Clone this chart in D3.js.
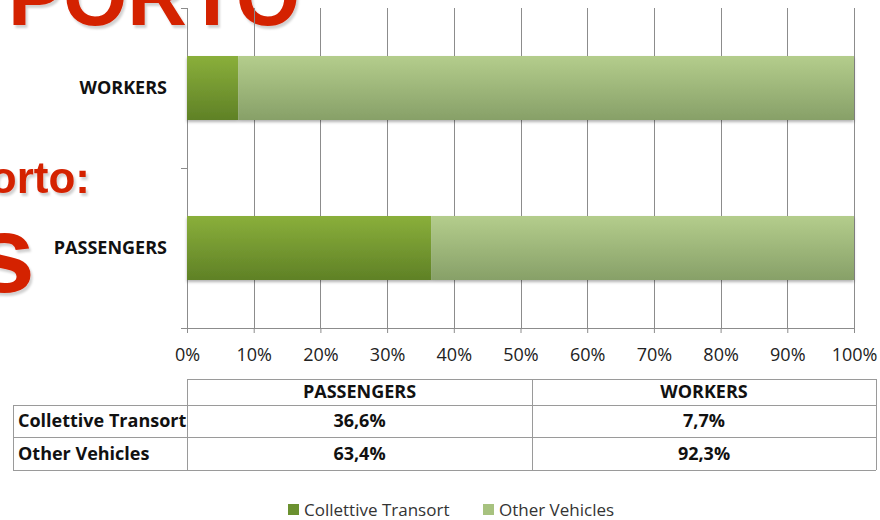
<!DOCTYPE html>
<html>
<head>
<meta charset="utf-8">
<script src="https://cdn.jsdelivr.net/npm/d3@7"></script>
<style>
	body { margin: 0; background: #fff; }
	svg { display: block; font-family: 'Open Sans', sans-serif; }
</style>
</head>
<body>
<svg width="880" height="520"></svg>
<script>
// Chart data
const categories = ['WORKERS', 'PASSENGERS']; // top to bottom
const seriesNames = ['Collettive Transort', 'Other Vehicles'];
const collective = [7.7, 36.6]; // % per category (same order)
const other = [92.3, 63.4];
const tickValues = [0, 10, 20, 30, 40, 50, 60, 70, 80, 90, 100];
const tableCols = ['PASSENGERS', 'WORKERS'];
const tableRows = [
	['36,6%', '7,7%'],
	['63,4%', '92,3%'],
];

const svg = d3.select('svg');
const margin = { left: 187, right: 26, top: 8, bottom: 192 };
const width = 880;
const height = 520;

const defs = svg.append('defs');
// soft grey shadow for the slide text
const textShadow = defs.append('filter').attr('id', 'textShadow').attr('x', '-10%').attr('y', '-10%').attr('width', '130%').attr('height', '130%');
textShadow.append('feDropShadow').attr('dx', 2).attr('dy', 3).attr('stdDeviation', 0.8)
	.attr('flood-color', '#000').attr('flood-opacity', 0.18);

// Background slide text (red, partly behind the chart)
const bg = svg.append('g').attr('font-family', "'Liberation Sans', Arial, sans-serif").attr('font-weight', 'bold')
	.attr('fill', '#d42100').attr('filter', 'url(#textShadow)');
bg.append('text').attr('x', 8).attr('y', 25).attr('font-size', 84)
	.attr('textLength', 292).attr('lengthAdjust', 'spacingAndGlyphs').text('PORTO');
bg.append('text').attr('x', 90).attr('y', 193).attr('text-anchor', 'end').attr('font-size', 44).text('Porto:');
bg.append('text').attr('x', 35).attr('y', 292).attr('text-anchor', 'end').attr('font-size', 110).text('s');

// gradients for bars
function grad(id, top, bottom) {
	const g = defs.append('linearGradient').attr('id', id).attr('x1', 0).attr('y1', 0).attr('x2', 0).attr('y2', 1);
	g.append('stop').attr('offset', '0%').attr('stop-color', top);
	g.append('stop').attr('offset', '100%').attr('stop-color', bottom);
}
grad('gDark', '#8aaf3b', '#5f8126');
grad('gLight', '#b4cd8c', '#87a068');
const shadow = defs.append('filter').attr('id', 'shadow').attr('x', '-5%').attr('y', '-20%').attr('width', '110%').attr('height', '150%');
shadow.append('feDropShadow').attr('dx', 0).attr('dy', 2).attr('stdDeviation', 1.5).attr('flood-opacity', 0.3);

const x = d3.scaleLinear().domain([0, 100]).range([margin.left, width - margin.right]);
const y = d3.scaleBand().domain(categories).range([margin.top, height - margin.bottom])
	.paddingInner(0.6).paddingOuter(0.3);

const chart = svg.append('g');

// gridlines
chart.append('g').selectAll('line').data(tickValues).join('line')
	.attr('x1', (d) => x(d) + 0.5).attr('x2', (d) => x(d) + 0.5)
	.attr('y1', y.range()[0]).attr('y2', y.range()[1])
	.attr('stroke', '#8c8c8c').attr('stroke-width', 1).attr('shape-rendering', 'crispEdges');

// x axis
const xAxis = chart.append('g').attr('transform', `translate(0,${y.range()[1]})`)
	.call(d3.axisBottom(x).tickValues(tickValues).tickSize(5).tickFormat((d) => d + '%'));
xAxis.select('.domain').attr('d', `M${x(0) - 6},0.5H${x(100)}`).attr('stroke', '#8c8c8c');
xAxis.selectAll('.tick line').attr('stroke', '#8c8c8c');
xAxis.selectAll('.tick text').attr('font-size', 18).attr('fill', '#222').attr('y', 20).attr('dy', '0.71em')
	.attr('font-family', "'Open Sans', sans-serif");

// y axis ticks at band boundaries
const boundaries = [y.range()[0], (y(categories[0]) + y.bandwidth() + y(categories[1])) / 2, y.range()[1]];
chart.append('g').selectAll('line').data(boundaries).join('line')
	.attr('x1', x(0) - 6).attr('x2', x(0)).attr('y1', (d) => d + 0.5).attr('y2', (d) => d + 0.5)
	.attr('stroke', '#8c8c8c').attr('shape-rendering', 'crispEdges');
chart.append('g').selectAll('text').data(categories).join('text')
	.attr('x', x(0) - 20).attr('y', (d) => y(d) + y.bandwidth() / 2).attr('dy', '0.35em')
	.attr('text-anchor', 'end').attr('font-size', 18).attr('font-weight', 'bold').attr('fill', '#111')
	.text((d) => d);

// stacked bars
const bars = chart.append('g').attr('filter', 'url(#shadow)');
bars.selectAll('.dark').data(categories).join('rect').attr('class', 'dark')
	.attr('x', x(0)).attr('y', (d) => y(d))
	.attr('width', (d, i) => x(collective[i]) - x(0)).attr('height', y.bandwidth())
	.attr('fill', 'url(#gDark)');
bars.selectAll('.light').data(categories).join('rect').attr('class', 'light')
	.attr('x', (d, i) => x(collective[i])).attr('y', (d) => y(d))
	.attr('width', (d, i) => x(collective[i] + other[i]) - x(collective[i])).attr('height', y.bandwidth())
	.attr('fill', 'url(#gLight)');

// data table
const colX = [13, 187, 532, 876];
const rowY = [379, 405, 437, 470];
const table = svg.append('g').attr('stroke', '#9a9a9a').attr('shape-rendering', 'crispEdges');
table.append('line').attr('x1', colX[1]).attr('x2', colX[3]).attr('y1', rowY[0] + 0.5).attr('y2', rowY[0] + 0.5);
rowY.slice(1).forEach((ry) => {
	table.append('line').attr('x1', colX[0]).attr('x2', colX[3]).attr('y1', ry + 0.5).attr('y2', ry + 0.5);
});
colX.forEach((cx, i) => {
	table.append('line').attr('x1', cx + 0.5).attr('x2', cx + 0.5)
		.attr('y1', i === 0 ? rowY[1] : rowY[0]).attr('y2', rowY[3]);
});
const tText = svg.append('g').attr('font-size', 18).attr('font-weight', 'bold').attr('fill', '#111');
tableCols.forEach((c, j) => {
	tText.append('text').attr('x', (colX[j + 1] + colX[j + 2]) / 2).attr('y', (rowY[0] + rowY[1]) / 2)
		.attr('dy', '0.36em').attr('text-anchor', 'middle').text(c);
});
tableRows.forEach((row, i) => {
	const cy = (rowY[i + 1] + rowY[i + 2]) / 2;
	tText.append('text').attr('x', colX[0] + 5).attr('y', cy).attr('dy', '0.36em').text(seriesNames[i]);
	row.forEach((v, j) => {
		tText.append('text').attr('x', (colX[j + 1] + colX[j + 2]) / 2).attr('y', cy)
			.attr('dy', '0.36em').attr('text-anchor', 'middle').text(v);
	});
});

// legend
const legendColors = ['#6b9130', '#a7c27f'];
const legend = svg.append('g').attr('transform', 'translate(288,510)');
const legendX = [0, 195];
seriesNames.forEach((s, i) => {
	legend.append('rect').attr('x', legendX[i]).attr('y', -6).attr('width', 11).attr('height', 11).attr('fill', legendColors[i]);
	legend.append('text').attr('x', legendX[i] + 16).attr('y', 0).attr('dy', '0.35em')
		.attr('font-size', 17).attr('fill', '#333').text(s);
});
</script>
</body>
</html>
